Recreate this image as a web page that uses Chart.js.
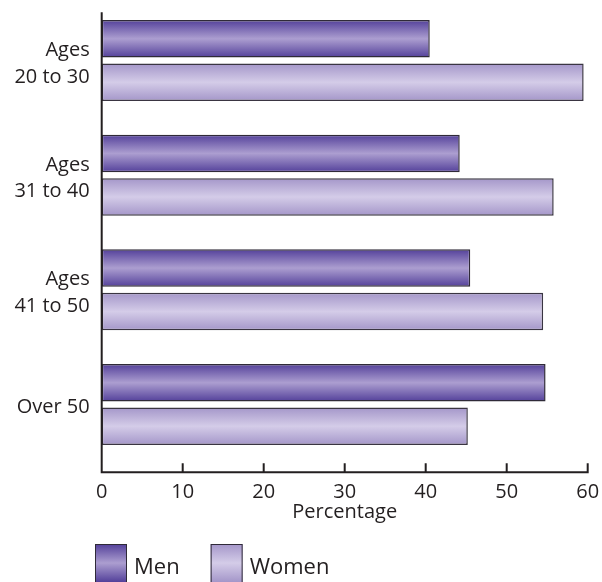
<!DOCTYPE html>
<html>
<head>
<meta charset="utf-8">
<script src="https://cdn.jsdelivr.net/npm/chart.js@4.4.1/dist/chart.umd.min.js"></script>
<style>
  html, body { margin: 0; padding: 0; background: #ffffff; }
  #wrap { width: 602px; height: 582px; }
</style>
</head>
<body>
<div id="wrap"><canvas id="c" width="602" height="582"></canvas></div>
<script>
const categories = [['Ages', '20 to 30'], ['Ages', '31 to 40'], ['Ages', '41 to 50'], 'Over 50'];
const seriesNames = ['Men', 'Women'];
const menValues = [40.5, 44.2, 45.5, 54.8];
const womenValues = [59.5, 55.8, 54.5, 45.2];
const xTickValues = [0, 10, 20, 30, 40, 50, 60];
const axisTitle = 'Percentage';

const FONT = "'Open Sans', 'Noto Sans', sans-serif";
const INK = '#231f20';
const menStops = ['#53409a', '#ac9ed0', '#53409a'];
const womenStops = ['#a496c9', '#d4cce8', '#a496c9'];
const stopsByDataset = [menStops, womenStops];

function fillStops(g, stops) {
  g.addColorStop(0, stops[0]);
  g.addColorStop(0.5, stops[1]);
  g.addColorStop(1, stops[2]);
  return g;
}

function barGradient(ctx) {
  const stops = stopsByDataset[ctx.datasetIndex];
  const chart = ctx.chart;
  const y = chart.scales && chart.scales.y;
  if (!y || ctx.type !== 'data' || !chart.chartArea) return stops[1];
  const n = chart.data.labels.length;
  const ds = chart.data.datasets[ctx.datasetIndex];
  const cat = (y.bottom - y.top) / n;
  const nDs = chart.data.datasets.length;
  const slot = cat * ds.categoryPercentage / nDs;
  const h = slot * ds.barPercentage;
  const c = y.getPixelForValue(ctx.dataIndex) + (ctx.datasetIndex - (nDs - 1) / 2) * slot;
  return fillStops(chart.ctx.createLinearGradient(0, c - h / 2, 0, c + h / 2), stops);
}

const axesPlugin = {
  id: 'axesPlugin',
  afterDatasetsDraw(chart) {
    const ctx = chart.ctx;
    const xs = chart.scales.x;
    const area = chart.chartArea;
    const axisY = area.bottom + 10.5;
    const topY = area.top + 9;
    ctx.save();
    ctx.strokeStyle = INK;
    ctx.lineWidth = 2;
    ctx.lineCap = 'butt';
    ctx.beginPath();
    ctx.moveTo(xs.left, topY);
    ctx.lineTo(xs.left, axisY + 1);
    ctx.moveTo(xs.left - 1, axisY);
    ctx.lineTo(xs.right + 1, axisY);
    xTickValues.forEach(v => {
      if (v === xTickValues[0]) return;
      const px = xs.getPixelForValue(v);
      ctx.moveTo(px, axisY - 9);
      ctx.lineTo(px, axisY);
    });
    ctx.stroke();
    ctx.restore();
  }
};

const legendPlugin = {
  id: 'legendPlugin',
  afterDraw(chart) {
    const ctx = chart.ctx;
    ctx.save();
    ctx.font = '22px ' + FONT;
    ctx.textBaseline = 'alphabetic';
    ctx.textAlign = 'left';
    let x = 95;
    const top = 544, w = 32, h = 42;
    chart.data.datasets.forEach((ds, i) => {
      const g = fillStops(ctx.createLinearGradient(0, top, 0, top + 38), stopsByDataset[i]);
      ctx.fillStyle = g;
      ctx.fillRect(x, top, w, h);
      ctx.strokeStyle = '#2f2a38';
      ctx.lineWidth = 1;
      ctx.strokeRect(x + 0.5, top + 0.5, w - 1, h);
      ctx.fillStyle = INK;
      const tx = x + w + 7;
      ctx.fillText(ds.label, tx, 573.5);
      x = tx + ctx.measureText(ds.label).width + 31;
    });
    ctx.restore();
  }
};

new Chart(document.getElementById('c'), {
  type: 'bar',
  data: {
    labels: categories,
    datasets: [
      {
        label: seriesNames[0],
        data: menValues,
        backgroundColor: barGradient,
        borderColor: '#2f2a38',
        borderWidth: 1.5,
        borderSkipped: false,
        barPercentage: 0.862,
        categoryPercentage: 0.759
      },
      {
        label: seriesNames[1],
        data: womenValues,
        backgroundColor: barGradient,
        borderColor: '#3a3542',
        borderWidth: 1.5,
        borderSkipped: false,
        barPercentage: 0.862,
        categoryPercentage: 0.759
      }
    ]
  },
  options: {
    indexAxis: 'y',
    responsive: false,
    animation: false,
    layout: { padding: { top: 3.2, right: 14.3, bottom: 0, left: 0 } },
    plugins: {
      legend: { display: false },
      tooltip: { enabled: false }
    },
    scales: {
      x: {
        type: 'linear',
        min: xTickValues[0],
        max: xTickValues[xTickValues.length - 1],
        afterBuildTicks: s => { s.ticks = xTickValues.map(v => ({ value: v })); },
        grid: { display: false, drawTicks: false },
        border: { display: false },
        ticks: { font: { family: FONT, size: 20 }, color: INK, padding: 18, maxRotation: 0 },
        title: {
          display: true,
          text: axisTitle,
          font: { family: FONT, size: 20, lineHeight: 1.2 },
          color: INK,
          padding: { top: 0, bottom: 57.5 }
        },
        afterFit: s => {
          s.height = 120.2;
          s.paddingLeft = 0; s.paddingRight = 0; s.paddingTop = 0; s.paddingBottom = 0;
        }
      },
      y: {
        grid: { display: false, drawTicks: false },
        border: { display: false },
        ticks: { font: { family: FONT, size: 20, lineHeight: 1.33 }, color: INK, padding: 12, labelOffset: 3 },
        afterFit: s => {
          s.width = 101.7;
          s.paddingLeft = 0; s.paddingRight = 0; s.paddingTop = 0; s.paddingBottom = 0;
        }
      }
    }
  },
  plugins: [axesPlugin, legendPlugin]
});
</script>
</body>
</html>
